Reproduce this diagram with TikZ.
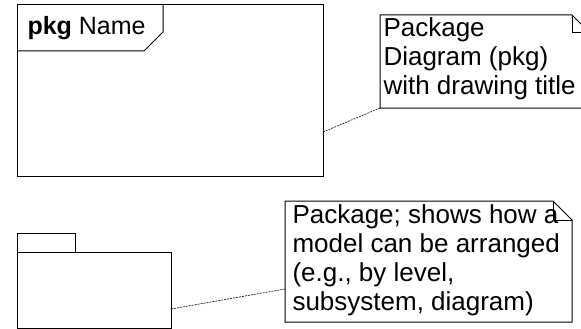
\documentclass[tikz,border=0pt]{standalone}
\usepackage{fontspec}
\setmainfont{Liberation Sans}
\begin{document}
\begin{tikzpicture}[x=1pt,y=-1pt,line width=1pt,
    notetext/.style={inner sep=0pt,align=left,anchor=north west,font=\fontsize{26}{29}\selectfont},
    titletext/.style={inner sep=0pt,anchor=base west,font=\fontsize{25}{29}\selectfont},
    boxshape/.style={draw,inner sep=0pt,anchor=north west},
    anchorline/.style={line width=0.6pt,dash pattern=on 2pt off 1pt}]
    \useasboundingbox (0,0) rectangle (581,329);
    \begin{scope}
        % frame with title tab
        \node[boxshape,minimum width=306pt,minimum height=172pt] (frame) at (17,4) {};
        \draw (163,4) -- (163,32) -- (144,51) -- (17,51);
        \node[titletext] (title) at (27,35) {\textbf{pkg} Name};
        % package symbol
        \node[boxshape,minimum width=58pt,minimum height=19pt] (tab) at (17,233) {};
        \node[boxshape,minimum width=154pt,minimum height=76pt] (pkg) at (17,252) {};
    \end{scope}
    % notes
    \draw (380,15) -- (572,15) -- (591,34) -- (591,108) -- (380,108) -- cycle;
    \draw (572,15) -- (572,33) -- (591,33);
    \node[notetext] (note1) at (383,17) {Package\\Diagram (pkg)\\with drawing title};
    \draw (285,201) -- (553,201) -- (572,220) -- (572,322) -- (285,322) -- cycle;
    \draw (553,201) -- (553,220) -- (572,220);
    \node[notetext] (note2) at (292,204) {Package; shows how a\\model can be arranged\\(e.g., by level,\\subsystem, diagram)};
    % anchors
    \coordinate (a1) at (323,132);
    \coordinate (b1) at (380,108);
    \coordinate (a2) at (171,309);
    \coordinate (b2) at (285,289);
    \draw[anchorline] (a1) -- (b1);
    \draw[anchorline] (a2) -- (b2);
\end{tikzpicture}
\end{document}
